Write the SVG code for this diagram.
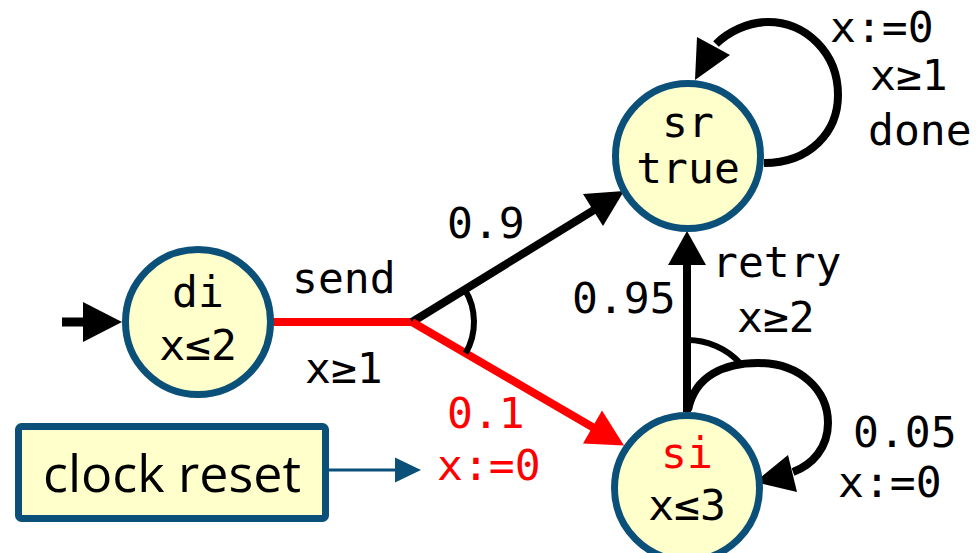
<svg xmlns="http://www.w3.org/2000/svg" width="979" height="553" viewBox="0 0 979 553">
  <style>
    .state { fill: #ffffcc; stroke: #0b5079; stroke-width: 7; }
    .lbl { font-family: "DejaVu Sans Mono", "Liberation Mono", monospace; font-size: 43px; fill: #000; }
    .mid { text-anchor: middle; }
    .red { fill: #ff0000; }
    .edge { fill: none; stroke: #000; stroke-width: 8; }
    .edge-red { fill: none; stroke: #ff0000; stroke-width: 8; }
    .angle { fill: none; stroke: #000; stroke-width: 6; }
    .head { fill: #000; }
    .head-red { fill: #ff0000; }
  </style>

  <!-- connectors -->
  <g id="connectors">
    <!-- initial arrow into di -->
    <line x1="62" y1="322" x2="88" y2="322" stroke="#000" stroke-width="9"/>
    <polygon class="head" points="83,302 122,322 83,342"/>

    <!-- send: di to branch point -->
    <line class="edge-red" x1="272" y1="322" x2="413" y2="322"/>
    <!-- branch 0.9 to sr -->
    <line class="edge" x1="412" y1="322" x2="594" y2="210"/>
    <polygon class="head" points="583,194 624,191 603,226"/>
    <!-- branch 0.1 to si -->
    <line class="edge-red" x1="412" y1="322" x2="594" y2="428"/>
    <polygon class="head-red" points="583,443.5 624,445.5 602,410.5"/>
    <!-- probabilistic branch arc -->
    <path class="angle" d="M464.7,289.4 A62,62 0 0 1 465.6,353.2"/>

    <!-- sr self-loop -->
    <path class="edge" d="M764,163 C810,163 838,132 838,95 C838,52 805,22 768,22 C748,22 728,32 716,44"/>
    <polygon class="head" points="697,37 695,80 730,55"/>

    <!-- retry: si to sr (0.95) -->
    <line class="edge" x1="687" y1="412" x2="687" y2="262"/>
    <polygon class="head" points="668,265 687,231 706,265"/>
    <!-- si self-loop (0.05) -->
    <path class="edge" d="M688,410 C695,375 725,363 758,363 C800,363 828,390 828,423 C828,448 812,465 793,472"/>
    <polygon class="head" points="788,455 755,482 797,492"/>
    <!-- probabilistic branch arc at si -->
    <path class="angle" d="M687,340 A72,72 0 0 1 740,363"/>

    <!-- legend arrow -->
    <line x1="329" y1="470" x2="397" y2="470" stroke="#0b5079" stroke-width="3"/>
    <polygon fill="#0b5079" points="395,457.5 421,470 395,482.5"/>
  </g>

  <!-- edge labels -->
  <g id="edge-labels">
    <text class="lbl" x="292" y="293">send</text>
    <text class="lbl" x="305" y="383">x≥1</text>
    <text class="lbl" x="447" y="238">0.9</text>
    <text class="lbl red" x="447" y="428">0.1</text>
    <text class="lbl red" x="437" y="480">x:=0</text>
    <text class="lbl" x="572" y="313">0.95</text>
    <text class="lbl" x="712" y="277">retry</text>
    <text class="lbl" x="737" y="332">x≥2</text>
    <text class="lbl" x="853" y="447">0.05</text>
    <text class="lbl" x="838" y="497">x:=0</text>
    <text class="lbl" x="830" y="42">x:=0</text>
    <text class="lbl" x="870" y="90">x≥1</text>
    <text class="lbl" x="868" y="145">done</text>
  </g>

  <!-- states -->
  <g id="di">
    <circle class="state" cx="198" cy="322" r="72.5"/>
    <text class="lbl mid" x="198" y="307">di</text>
    <text class="lbl mid" x="198" y="360">x≤2</text>
  </g>
  <g id="sr">
    <circle class="state" cx="688" cy="156" r="72.5"/>
    <text class="lbl mid" x="688" y="137">sr</text>
    <text class="lbl mid" x="688" y="183">true</text>
  </g>
  <g id="si">
    <circle class="state" cx="687" cy="488" r="72.5"/>
    <text class="lbl mid red" x="687" y="468">si</text>
    <text class="lbl mid" x="687" y="520">x≤3</text>
  </g>

  <!-- legend -->
  <g id="clock-reset">
    <rect x="18.5" y="426.5" width="307" height="92" rx="3" fill="#ffffcc" stroke="#0b5079" stroke-width="7"/>
    <text x="172" y="492" text-anchor="middle" font-family="'Open Sans', 'DejaVu Sans', sans-serif" font-size="52" fill="#000">clock reset</text>
  </g>
</svg>
